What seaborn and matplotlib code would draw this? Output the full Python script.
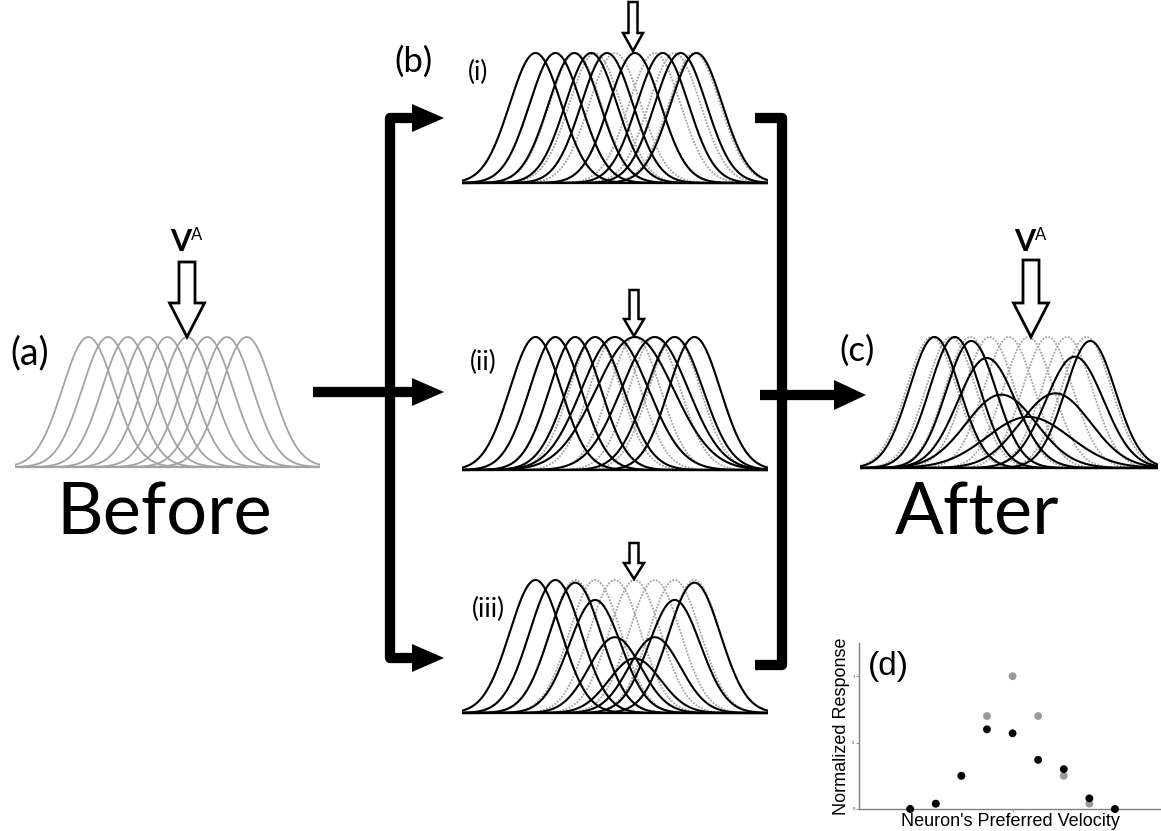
import numpy as np
import pandas as pd
import matplotlib
matplotlib.use("Agg")
import matplotlib.pyplot as plt
import seaborn as sns
from matplotlib.patches import Polygon

# ---------------- data ----------------
# preferred velocities of the 9 model neurons, relative to the adapter (units of spacing)
pref = [-5, -4, -3, -2, -1, 0, 1, 2, 3]
base_sigma = 1.3
gain_a = [1, 1, 1, 1, 1, 1, 1, 1, 1]
width_a = [1, 1, 1, 1, 1, 1, 1, 1, 1]
# (i) shifted preferred velocities
shift_i = [-5.0, -4.0, -3.05, -2.2, -1.4, 0.0, 1.4, 2.3, 3.1]
# (ii) broadened tuning width factors
width_ii = [1.0, 1.0, 1.0, 1.1, 1.3, 1.5, 1.3, 1.1, 1.0]
# (iii) reduced gains
gain_iii = [1.0, 1.0, 0.98, 0.85, 0.57, 0.41, 0.57, 0.85, 0.98]
# (c) combined effect
shift_c = [-4.85, -3.8, -2.95, -2.15, -1.4, 0.0, 1.4, 2.4, 3.2]
width_c = [1.0, 1.0, 1.0, 1.15, 1.4, 1.65, 1.4, 1.15, 1.0]
gain_c = [1.0, 1.0, 0.97, 0.84, 0.56, 0.39, 0.57, 0.85, 0.97]

# (d) population response
d_vel = [-4, -3, -2, -1, 0, 1, 2, 3, 4]
d_before = [0.0, 0.04, 0.25, 0.70, 1.0, 0.70, 0.25, 0.04, 0.0]
d_after = [0.0, 0.04, 0.25, 0.60, 0.57, 0.37, 0.30, 0.08, 0.0]
d_yticks = [0, 0.5, 1]
d_yticklabels = ["0", ".5", "1"]
d_xticks = [-4, 0, 4]

# ---------------- setup ----------------
sns.set_theme(style="white")
plt.rcParams["font.family"] = ["Lato", "DejaVu Sans"]
plt.rcParams["text.color"] = "black"
plt.rcParams["axes.labelcolor"] = "black"

W, H = 1161, 831
fig = plt.figure(figsize=(W / 100, H / 100), dpi=100)
fig.patch.set_facecolor("white")

XLIM = (-8.7, 6.7)
xgrid = np.linspace(XLIM[0], XLIM[1], 600)


def curves(centers, widths, gains):
    frames = []
    for i, (c, w, g) in enumerate(zip(centers, widths, gains)):
        y = g * np.exp(-0.5 * ((xgrid - c) / (base_sigma * w)) ** 2)
        frames.append(pd.DataFrame({"x": xgrid, "y": y, "neuron": i}))
    return pd.concat(frames, ignore_index=True)


def panel_axes(x0, x1, base, peak, ylo=-0.05, yhi=1.1):
    unit = base - peak
    bot_px = base - ylo * unit
    top_px = base - yhi * unit
    ax = fig.add_axes([x0 / W, 1 - bot_px / H, (x1 - x0) / W, (bot_px - top_px) / H])
    ax.set_xlim(XLIM)
    ax.set_ylim(ylo, yhi)
    ax.axis("off")
    return ax


def draw(ax, df, color, lw, ls="-"):
    sns.lineplot(data=df, x="x", y="y", units="neuron", estimator=None,
                 color=color, linewidth=lw, linestyle=ls, ax=ax,
                 legend=False, sort=False)
    ax.axis("off")


GREY = "#a3a3a3"
DOT = (0, (1, 0.8))

before_df = curves(pref, width_a, gain_a)

# (a)
axa = panel_axes(15, 320, 467, 337)
draw(axa, before_df, GREY, 1.3)
axa.axhline(0, color=GREY, lw=1.6)

# (b) i, ii, iii
panels_b = [
    (183, 53, curves(shift_i, width_a, gain_a)),
    (470, 337, curves(pref, width_ii, gain_a)),
    (713, 580, curves(pref, width_a, gain_iii)),
]
for base, peak, df in panels_b:
    ax = panel_axes(462, 768, base, peak)
    draw(ax, before_df, GREY, 1.3, DOT)
    draw(ax, df, "black", 1.5)
    ax.axhline(0, color="black", lw=1.6)

# (c)
axc = panel_axes(860, 1158, 468, 337)
draw(axc, before_df, GREY, 1.3, DOT)
draw(axc, curves(shift_c, width_c, gain_c), "black", 1.5)
axc.axhline(0, color="black", lw=1.6)

# (d)
axd = fig.add_axes([859 / W, 1 - 809 / H, 302 / W, 166 / H])
sns.scatterplot(x=d_vel, y=d_before, color="#9a9a9a", s=32, edgecolor="none",
                ax=axd, clip_on=False, zorder=3)
sns.scatterplot(x=d_vel, y=d_after, color="black", s=32, edgecolor="none",
                ax=axd, clip_on=False, zorder=4)
axd.set_xlim(-6, 5.8)
axd.set_ylim(0, 1.25)
axd.set_facecolor("none")
for s in ["top", "right"]:
    axd.spines[s].set_visible(False)
for s in ["left", "bottom"]:
    axd.spines[s].set_color("#808080")
    axd.spines[s].set_linewidth(1.0)
axd.set_yticks(d_yticks)
axd.set_yticklabels(d_yticklabels, fontsize=3)
axd.set_xticks(d_xticks)
axd.set_xticklabels(["", "", ""])
axd.tick_params(axis="both", length=2, width=0.6, color="#808080", pad=1,
                left=True, bottom=True)
dfont = ["Liberation Sans Narrow", "Liberation Sans", "DejaVu Sans"]
axd.set_ylabel("Normalized Response", fontsize=13, family=dfont, labelpad=1)
axd.set_xlabel("Neuron's Preferred Velocity", fontsize=13, family=dfont, labelpad=0)

# ---------------- overlay: arrows & text ----------------
ov = fig.add_axes([0, 0, 1, 1], zorder=10)
ov.set_xlim(0, W)
ov.set_ylim(H, 0)
ov.axis("off")


def hollow_arrow(x, top, tip, sw, hw, hl, lw):
    pts = [(x - sw / 2, top), (x + sw / 2, top), (x + sw / 2, tip - hl),
           (x + hw / 2, tip - hl), (x, tip), (x - hw / 2, tip - hl),
           (x - sw / 2, tip - hl)]
    ov.add_patch(Polygon(pts, closed=True, facecolor="white", edgecolor="black",
                         lw=lw, joinstyle="miter"))


def head(x0, x1, y, h):
    ov.add_patch(Polygon([(x0, y - h / 2), (x1, y), (x0, y + h / 2)], closed=True,
                         facecolor="black", edgecolor="none"))


hollow_arrow(187, 262, 337, 16, 35, 34, 2.0)
hollow_arrow(1031, 260, 337, 16, 35, 34, 2.0)
hollow_arrow(633, 2, 51, 9, 20, 18, 1.8)
hollow_arrow(634, 290, 336, 9, 20, 17, 1.8)
hollow_arrow(634, 543, 579, 9, 20, 16, 1.8)

LW = 7.4
# left branching bracket
ov.plot([414, 390, 390, 414], [118, 118, 658, 658], color="black", lw=LW,
        solid_joinstyle="round", solid_capstyle="butt")
ov.plot([313, 414], [392, 392], color="black", lw=LW, solid_capstyle="butt")
head(412, 444, 118, 28)
head(412, 444, 392, 28)
head(412, 444, 658, 28)
# right merging bracket
ov.plot([755, 782, 782, 755], [118, 118, 665, 665], color="black", lw=LW,
        solid_joinstyle="round", solid_capstyle="butt")
ov.plot([760, 836], [395, 395], color="black", lw=LW, solid_capstyle="butt")
head(834, 866, 395, 30)

# labels
ov.text(30, 353, "(a)", fontsize=27, ha="center", va="center")
ov.text(413, 62, "(b)", fontsize=25, ha="center", va="center")
ov.text(478, 72, "(i)", fontsize=19, ha="center", va="center")
ov.text(483, 362, "(ii)", fontsize=19, ha="center", va="center")
ov.text(488, 609, "(iii)", fontsize=19, ha="center", va="center")
ov.text(857, 351, "(c)", fontsize=25, ha="center", va="center")
ov.text(888, 667, "(d)", fontsize=24, ha="center", va="center", family=dfont)
ov.text(164, 514, "Before", fontsize=52, ha="center", va="center")
ov.text(977, 514, "After", fontsize=52, ha="center", va="center")
for vx in (181, 1025):
    ov.text(vx, 251, "V", fontsize=22, fontweight="bold", ha="center", va="baseline")
    ov.text(vx + 10, 240, "A", fontsize=12, ha="left", va="baseline")

fig.savefig("out.png", dpi=100, facecolor="white")
